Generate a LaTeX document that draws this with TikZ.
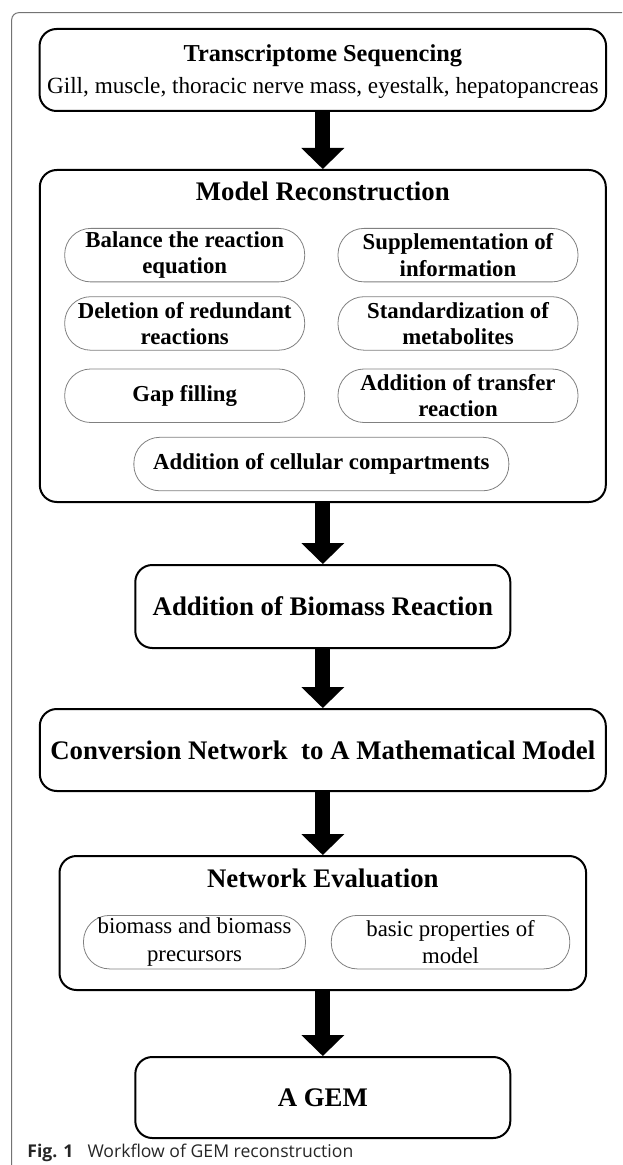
\documentclass[tikz,border=0pt]{standalone}
\usepackage{fontspec}
\setmainfont{Liberation Serif}
\newfontfamily\capfont{Open Sans}
\usetikzlibrary{arrows.meta, positioning, calc}

\begin{document}
\begin{tikzpicture}[x=1pt, y=1pt, node distance=29pt,
		stage/.style={rectangle, draw, line width=1pt, rounded corners=8.5pt, align=center, inner sep=0pt, minimum width=283pt, minimum height=41pt, font=\fontsize{13.4}{16}\selectfont\bfseries},
		task/.style={rectangle, draw=black!50, line width=0.4pt, rounded corners=13pt, align=center, inner sep=0pt, minimum width=120pt, minimum height=26.75pt, font=\fontsize{11.4}{13.3}\selectfont\bfseries},
		check/.style={task, font=\fontsize{11.4}{13.8}\selectfont\mdseries},
		heading/.style={anchor=base, inner sep=0pt, font=\fontsize{13.4}{16}\selectfont\bfseries},
		flow/.style={-{Triangle[width=21.5pt, length=10.5pt, line width=0pt]}, line width=7.5pt}]

				\useasboundingbox (0,0) rectangle (311,-582.5);

				% outer frame
				\draw[black!55, line width=0.5pt, rounded corners=3.5pt] (5.85,-582.5) -- (5.85,-6.35) -- (311,-6.35);

				\node[stage, minimum width=283.25pt] (Seq) at (161.4,-35) {};
				\node[heading, font=\fontsize{12.15}{16}\selectfont\bfseries] (SeqTitle) at ([yshift=-17pt]Seq.north)
					{Transcriptome Sequencing};
				\node[heading, font=\fontsize{11.6}{16}\selectfont] (SeqTissue) at ([yshift=-33pt]Seq.north)
					{Gill, muscle, thoracic nerve mass, eyestalk, hepatopancreas};

				\node[stage, minimum height=166pt, below=28.5pt of Seq] (Model) {};
				\node[heading] (ModelTitle) at ([yshift=-16pt]Model.north) {Model Reconstruction};

				\node[task, anchor=north west] (Balance) at ([xshift=12.75pt, yshift=-29.5pt]Model.north west)
					{Balance the reaction\\equation};
				\node[task, right=16.25pt of Balance] (Supply) {Supplementation of\\information};
				\node[task, below=7pt of Balance] (Delete) {Deletion of redundant\\reactions};
				\node[task, below=7pt of Supply] (Standard) {Standardization of\\metabolites};
				\node[task, below=9pt of Delete] (Gap) {Gap filling};
				\node[task, below=9pt of Standard] (Transfer) {Addition of transfer\\reaction};
				\coordinate (GapMid) at ($(Gap.south)!0.5!(Transfer.south)$);
				\node[task, minimum width=187.5pt, below=7pt of GapMid] (Compart) {Addition of cellular compartments};

				\node[stage, minimum width=187.5pt, minimum height=41.5pt, below=30.5pt of Model] (Biomass)
					{Addition of Biomass Reaction};
				\node[stage, below=29.5pt of Biomass] (Convert) {Conversion Network\ \ to A Mathematical Model};

				\node[stage, minimum width=263.3pt, minimum height=67pt, below=31.5pt of Convert] (Eval) {};
				\node[heading] (EvalTitle) at ([yshift=-16pt]Eval.north) {Network Evaluation};
				\node[check, minimum width=111pt, anchor=north west] (Precursor) at ([xshift=12.3pt, yshift=-30pt]Eval.north west)
					{biomass and biomass\\precursors};
				\node[check, minimum width=119.25pt, right=12.5pt of Precursor] (Property) {basic properties of\\model};

				\node[stage, minimum width=187.5pt, minimum height=40.5pt, below=32.5pt of Eval] (GEM) {A GEM};

				\draw[flow] (Seq.south) -- (Model.north);
				\draw[flow] (Model.south) -- (Biomass.north);
				\draw[flow] (Biomass.south) -- (Convert.north);
				\draw[flow] (Convert.south) -- (Eval.north);
				\draw[flow] (Eval.south) -- (GEM.north);

				\node[anchor=base west, inner sep=0pt, text=black!85, font=\capfont\fontsize{8.8}{10}\selectfont] (Caption) at (13.5,-578.5)
					{\textbf{Fig. 1}\hspace{7pt}Workflow of GEM reconstruction};

			\end{tikzpicture}
\end{document}
